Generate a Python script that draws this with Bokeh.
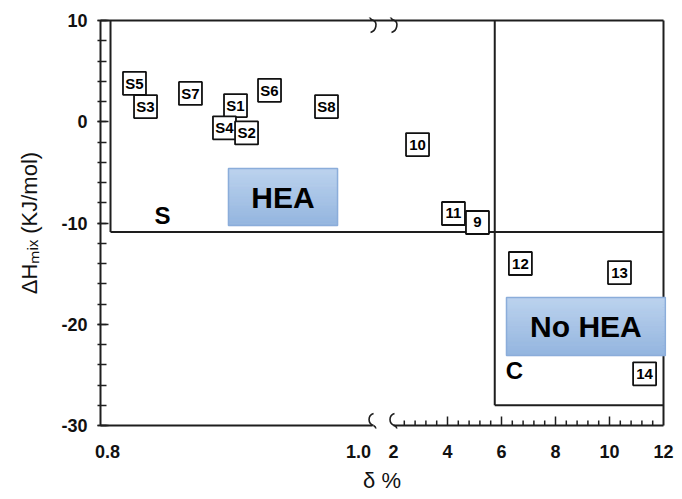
import numpy as np
from bokeh.plotting import figure
from bokeh.models import Range1d, FixedTicker
from bokeh.core.properties import value
from bokeh.embed import file_html
from bokeh.resources import INLINE

# ---------------- data ----------------
s_labels = ["S5", "S3", "S7", "S1", "S4", "S2", "S6", "S8"]
s_delta = [0.8215, 0.8303, 0.8661, 0.9020, 0.8932, 0.9108, 0.9291, 0.9745]
s_dh = [3.8, 1.5, 2.8, 1.6, -0.6, -1.1, 3.1, 1.5]

n_labels = ["10", "11", "9", "12", "13", "14"]
n_delta = [2.89, 4.22, 5.11, 6.70, 10.37, 11.30]
n_dh = [-2.25, -9.06, -9.95, -14.0, -14.9, -24.9]

x_tick_values = [0.8, 1.0, 2, 4, 6, 8, 10, 12]
x_tick_labels = ["0.8", "1.0", "2", "4", "6", "8", "10", "12"]
y_tick_values = [-30, -20, -10, 0, 10]
y_tick_labels = ["-30", "-20", "-10", "0", "10"]

# region boundaries (delta %, kJ/mol)
delta_split = 5.75
dh_split = -10.9
c_bottom = -28.0
s_region_left = 0.8024

# ---------------- broken x scale ----------------
L0, L1 = 0.8, 1.0
R0, R1 = 2.0, 12.0
U_L0, U_L1 = 107.0, 358.0
U_R0, U_R1 = 393.0, 663.0
BREAK_LEFT = 1.0112  # end of the left segment of the axis
AXIS_LEFT = 0.79442  # delta where the y axis sits


def u(d):
    d = np.asarray(d, dtype=float)
    left = U_L0 + (d - L0) * (U_L1 - U_L0) / (L1 - L0)
    right = U_R0 + (d - R0) * (U_R1 - U_R0) / (R1 - R0)
    return np.where(d < 1.5, left, right)


PX = 10.125  # pixels per kJ/mol
Y0, Y1 = -30.0, 10.0

p = figure(width=682, height=499, output_backend="svg", toolbar_location=None,
           x_range=Range1d(97, 666),
           y_range=Range1d(Y0 - 3 / PX, Y1 + 3 / PX),
           min_border_left=97, min_border_right=16, min_border_top=17,
           min_border_bottom=71)
p.outline_line_color = None
p.xgrid.visible = False
p.ygrid.visible = False
p.background_fill_color = "white"
p.border_fill_color = "white"

FONT = "Liberation Sans"
LC = "#1e1e1e"

# y axis
ya = p.yaxis[0]
ya.ticker = FixedTicker(ticks=y_tick_values, minor_ticks=list(range(-30, 11, 2)))
ya.major_label_overrides = {v: t for v, t in zip(y_tick_values, y_tick_labels)}
ya.axis_line_color = None
ya.major_tick_in = 11
ya.major_tick_out = 0
ya.minor_tick_in = 9
ya.minor_tick_out = 0
ya.major_tick_line_color = LC
ya.minor_tick_line_color = LC
ya.major_tick_line_width = 1.5
ya.minor_tick_line_width = 1.5
ya.major_label_standoff = 10
ya.major_label_text_font = FONT
ya.major_label_text_font_style = "bold"
ya.major_label_text_font_size = "18px"
ya.major_label_text_color = "#111111"
ya.axis_label = "\u0394H\u2098\u1d62\u2093 (KJ/mol)"
ya.axis_label_standoff = 16
ya.axis_label_text_font = FONT
ya.axis_label_text_font_style = "normal"
ya.axis_label_text_font_size = "22px"
ya.axis_label_text_color = "#111111"

# x axis (labels only, ticks drawn below)
xa = p.xaxis[0]
xu = [float(v) for v in u(x_tick_values)]
xa.ticker = FixedTicker(ticks=xu, minor_ticks=[])
xa.major_label_overrides = {v: t for v, t in zip(xu, x_tick_labels)}
xa.axis_line_color = None
xa.major_tick_line_color = None
xa.minor_tick_line_color = None
xa.major_tick_in = 0
xa.major_tick_out = 0
xa.major_label_standoff = 16
xa.major_label_text_font = FONT
xa.major_label_text_font_style = "bold"
xa.major_label_text_font_size = "18px"
xa.major_label_text_color = "#111111"
xa.axis_label = "\u03b4 %"
xa.axis_label_standoff = 7
xa.axis_label_text_font = FONT
xa.axis_label_text_font_style = "normal"
xa.axis_label_text_font_size = "22px"
xa.axis_label_text_color = "#111111"

# frame / region lines
ax_u = float(u(AXIS_LEFT))
x0 = [ax_u, float(u(R1)), ax_u, ax_u, float(u(R0)),
      float(u(s_region_left)), float(u(s_region_left)),
      float(u(delta_split)), float(u(delta_split))]
y0 = [Y1, Y1, Y1, Y0, Y0, Y1, dh_split, Y1, c_bottom]
x1 = [float(u(R1)), float(u(R1)), ax_u, float(u(BREAK_LEFT)), float(u(R1)),
      float(u(s_region_left)), float(u(R1)),
      float(u(delta_split)), float(u(R1))]
y1 = [Y1, Y0, Y0, Y0, Y0, dh_split, dh_split, c_bottom, c_bottom]
p.segment(x0=x0, y0=y0, x1=x1, y1=y1, line_color=LC, line_width=2)

# x ticks on the right segment (pointing inwards)
major_x = [4, 6, 8, 10]
minor_x = [round(v, 1) for v in np.arange(2.4, 12.0, 0.4)
           if min(abs(v - m) for m in major_x) > 0.05]
p.segment(x0=u(major_x), y0=[Y0] * len(major_x), x1=u(major_x),
          y1=[Y0 + 9 / PX] * len(major_x), line_color=LC, line_width=1.5)
p.segment(x0=u(minor_x), y0=[Y0] * len(minor_x), x1=u(minor_x),
          y1=[Y0 + 5 / PX] * len(minor_x), line_color=LC, line_width=1.5)


# axis break squiggles (S-shaped, like the reference)
def squiggle(xc, yc):
    k = 1.0 / PX
    b1 = [(1, -12), (-5, -10), (-5, -2), (1, 0)]
    b2 = [(1, 0), (5, 2), (4, 10), (-2, 12)]
    out = []
    for b in (b1, b2):
        out.append([xc + b[0][0], yc - b[0][1] * k, xc + b[3][0], yc - b[3][1] * k,
                    xc + b[1][0], yc - b[1][1] * k, xc + b[2][0], yc - b[2][1] * k])
    return out


bz = []
for xc in (float(u(BREAK_LEFT)), float(u(R0))):
    for yc in (Y1, Y0):
        bz += squiggle(xc, yc)
bz = np.array(bz)
p.bezier(x0=bz[:, 0], y0=bz[:, 1], x1=bz[:, 2], y1=bz[:, 3],
         cx0=bz[:, 4], cy0=bz[:, 5], cx1=bz[:, 6], cy1=bz[:, 7],
         line_color=LC, line_width=1.6)


# HEA / No HEA boxes with a soft vertical gradient
def grad_box(left, right, top, bottom, text, n=24):
    c_top = np.array([0xbc, 0xd3, 0xee])
    c_bot = np.array([0x94, 0xb5, 0xdf])
    edges = np.linspace(top, bottom, n + 1)
    cols = []
    for i in range(n):
        c = c_top + (c_bot - c_top) * (i + 0.5) / n
        cols.append("#%02x%02x%02x" % tuple(int(round(v)) for v in c))
    p.quad(left=[u(left)] * n, right=[u(right)] * n, top=edges[:-1], bottom=edges[1:],
           fill_color=cols, line_color=cols, line_width=1)
    p.quad(left=[u(left)], right=[u(right)], top=[top], bottom=[bottom],
           fill_color=None, line_color="#8badda", line_width=1.5)
    p.text(x=[(u(left) + u(right)) / 2], y=[(top + bottom) / 2], text=[text],
           text_align="center", text_baseline="middle", text_font=value(FONT),
           text_font_style="bold", text_font_size="30px", text_color="black")


grad_box(0.8964, 0.9833, -4.62, -10.25, "HEA")
grad_box(6.185, 12.07, -17.36, -23.09, "No HEA")

# region letters
p.text(x=u([0.8438, 6.48]), y=[-9.26, -24.57], text=["S", "C"],
       text_align="center", text_baseline="middle", text_font=value(FONT),
       text_font_style="bold", text_font_size="24px", text_color="black")

# labelled points
all_labels = s_labels + n_labels
all_u = list(u(s_delta)) + list(u(n_delta))
all_dh = s_dh + n_dh
p.rect(x=all_u, y=all_dh, width=23, height=23, width_units="screen",
       height_units="screen", fill_color="white", line_color="#111111",
       line_width=1.8)
p.text(x=all_u, y=all_dh, text=all_labels, text_align="center",
       text_baseline="middle", text_font=value(FONT), text_font_style="bold",
       text_font_size="15px", text_color="black")

open("out.html", "w").write(file_html(p, INLINE))
